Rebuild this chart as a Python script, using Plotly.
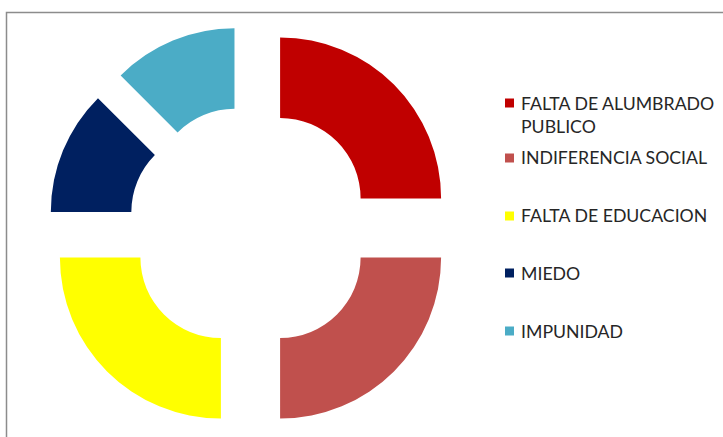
import plotly.graph_objects as go

# ---- data ----
labels = ["FALTA DE ALUMBRADO PUBLICO", "INDIFERENCIA SOCIAL", "FALTA DE EDUCACION", "MIEDO", "IMPUNIDAD"]
legend_text = ["FALTA DE ALUMBRADO<br>PUBLICO", "INDIFERENCIA SOCIAL", "FALTA DE EDUCACION", "MIEDO", "IMPUNIDAD"]
values = [2, 2, 2, 1, 1]
colors = ["#C00000", "#C0504D", "#FFFF00", "#002060", "#4BACC6"]

W, H = 723, 437
PULL = 0.26
cx, cy = 250.5, 228.0      # pie centre in px
r = 161.0                  # pie radius in px
half = r * (1 + PULL)

fig = go.Figure(go.Pie(
    labels=labels, values=values, sort=False, direction="clockwise", rotation=0,
    hole=0.5, pull=[PULL] * len(values),
    marker=dict(colors=colors, line=dict(width=0)),
    textinfo="none", showlegend=False,
    domain=dict(x=[(cx - half) / W, (cx + half) / W], y=[1 - (cy + half) / H, 1 - (cy - half) / H]),
))

# frame
shapes = [dict(type="rect", xref="paper", yref="paper", x0=6.5 / W, x1=1.02, y0=-0.02, y1=1 - 12.5 / H,
               line=dict(color="#8C8C8C", width=1.5), fillcolor="rgba(0,0,0,0)", layer="below")]

# legend (manual)
item_y = [103, 158, 216, 273, 331]
annotations = []
for i, (t, c) in enumerate(zip(legend_text, colors)):
    yc = item_y[i]
    shapes.append(dict(type="rect", xref="paper", yref="paper",
                       x0=505 / W, x1=514 / W, y0=1 - (yc + 4.5) / H, y1=1 - (yc - 4.5) / H,
                       fillcolor=c, line=dict(width=0)))
    if "<br>" in t:
        annotations.append(dict(text=t, x=519 / W, y=1 - (yc - 11.5) / H, xref="paper", yref="paper",
                                xanchor="left", yanchor="top", align="left", showarrow=False))
    else:
        annotations.append(dict(text=t, x=519 / W, y=1 - yc / H, xref="paper", yref="paper",
                                xanchor="left", yanchor="middle", align="left", showarrow=False))

fig.update_layout(
    width=W, height=H, margin=dict(l=0, r=0, t=0, b=0),
    paper_bgcolor="white", plot_bgcolor="white",
    font=dict(family="Lato", size=17.7, color="#262626"),
    shapes=shapes, annotations=annotations,
)
fig.write_html("out.html", config={"displayModeBar": False},
               post_script="document.body.style.margin='0';")
